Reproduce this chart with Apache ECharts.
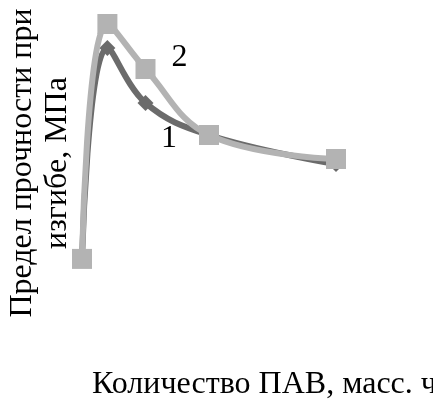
<!DOCTYPE html>
<html>
<head>
<meta charset="utf-8">
<script src="https://cdn.jsdelivr.net/npm/echarts@6/dist/echarts.min.js"></script>
<style>
  html, body { margin: 0; padding: 0; background: #fff; overflow: hidden; }
  #chart { width: 433px; height: 401px; }
</style>
</head>
<body>
<div id="chart"></div>
<script>
// Surfactant content, mass parts
const surfactant = [0, 0.1, 0.25, 0.5, 1.0];
// Flexural strength, MPa
const strength1 = [1.37, 8.4, 6.57, 5.5, 4.53];
const strength2 = [1.37, 9.2, 7.7, 5.5, 4.7];
const seriesLabels = ['1', '2'];
const yTitle = ['Предел прочности при', 'изгибе, МПа'];
const xTitle = 'Количество ПАВ, масс. ч';

const pairs = (xs, ys) => xs.map((x, i) => [x, ys[i]]);
const font = '32px "Liberation Serif", "Times New Roman", serif';

const chart = echarts.init(document.getElementById('chart'), null, { renderer: 'canvas' });
chart.setOption({
  animation: false,
  backgroundColor: '#ffffff',
  grid: { left: 82, top: 0, width: 254, height: 300 },
  xAxis: {
    type: 'value', min: 0, max: 1,
    axisLine: { show: false }, axisTick: { show: false },
    axisLabel: { show: false }, splitLine: { show: false }
  },
  yAxis: {
    type: 'value', min: 0, max: 10,
    axisLine: { show: false }, axisTick: { show: false },
    axisLabel: { show: false }, splitLine: { show: false }
  },
  series: [
    {
      name: seriesLabels[0], type: 'line', smooth: 0.4,
      data: pairs(surfactant, strength1),
      symbol: 'diamond', symbolSize: 16,
      lineStyle: { color: '#6b6b6b', width: 6 },
      itemStyle: { color: '#6b6b6b' },
      z: 2
    },
    {
      name: seriesLabels[1], type: 'line', smooth: 0.4,
      data: pairs(surfactant, strength2),
      symbol: 'rect', symbolSize: 20,
      lineStyle: { color: '#b3b3b3', width: 6 },
      itemStyle: { color: '#b3b3b3' },
      z: 3
    }
  ],
  graphic: [
    {
      type: 'text', x: 22.5, y: 163, rotation: Math.PI / 2,
      style: { text: yTitle[0], font: font, fill: '#000',
               align: 'center', verticalAlign: 'middle' }
    },
    {
      type: 'text', x: 57.5, y: 163, rotation: Math.PI / 2,
      style: { text: yTitle[1], font: font, fill: '#000',
               align: 'center', verticalAlign: 'middle' }
    },
    {
      type: 'text', x: 92, y: 384.5,
      style: { text: xTitle, font: font, fill: '#000',
               align: 'left', verticalAlign: 'middle' }
    },
    {
      type: 'text', x: 169, y: 139,
      style: { text: seriesLabels[0], font: font, fill: '#000',
               align: 'center', verticalAlign: 'middle' }
    },
    {
      type: 'text', x: 179.5, y: 57.5,
      style: { text: seriesLabels[1], font: font, fill: '#000',
               align: 'center', verticalAlign: 'middle' }
    }
  ]
});
</script>
</body>
</html>
